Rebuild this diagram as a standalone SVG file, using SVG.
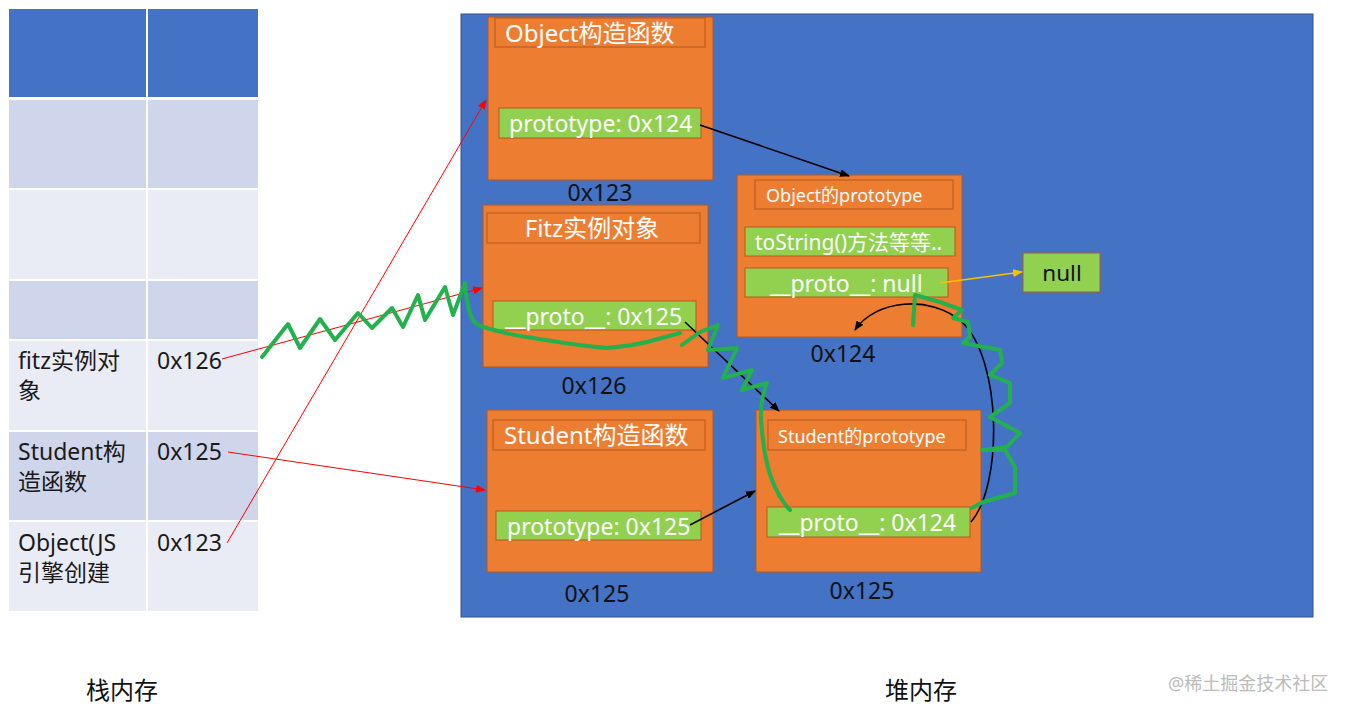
<svg xmlns="http://www.w3.org/2000/svg" width="1349" height="714" viewBox="0 0 1349 714">
<defs>
<style>
text{font-family:"Noto Sans","Noto Sans CJK SC",sans-serif}
.cell-h{fill:#4472C4}
.cell-d{fill:#CFD5EA}
.cell-l{fill:#E9EBF5}
.tt{font-size:23px;fill:#1a1a1a}
.box{fill:#ED7D31;stroke:#B5591E;stroke-width:1}
.title{fill:#ED7D31;stroke:#B5591E;stroke-width:1}
.field{fill:#92D050;stroke:#B5591E;stroke-width:1}
.wh{fill:#fff;font-size:24px}
.wt{fill:#fff;font-size:23px}
.wts{fill:#fff;font-size:18px}
.addr{fill:#111;font-size:23px;text-anchor:middle}
.red{stroke:#FF0000;stroke-width:1;fill:none;marker-end:url(#ar)}
.blk{stroke:#000;stroke-width:1.6;fill:none;marker-end:url(#ab)}
.yel{stroke:#FFC000;stroke-width:1.6;fill:none;marker-end:url(#ay)}
.grn{stroke:#22B14C;stroke-width:4;fill:none;stroke-linecap:round;stroke-linejoin:round}
</style>
<marker id="ar" markerWidth="10" markerHeight="8" refX="9" refY="4" orient="auto" markerUnits="userSpaceOnUse"><path d="M0,0 L10,4 L0,8 z" fill="#FF0000"/></marker>
<marker id="ab" markerWidth="10" markerHeight="8" refX="9" refY="4" orient="auto" markerUnits="userSpaceOnUse"><path d="M0,0 L10,4 L0,8 z" fill="#000"/></marker>
<marker id="ay" markerWidth="10" markerHeight="8" refX="9" refY="4" orient="auto" markerUnits="userSpaceOnUse"><path d="M0,0 L10,4 L0,8 z" fill="#FFC000"/></marker>
</defs>
<rect width="1349" height="714" fill="#fff"/>

<g id="stack">
<rect class="cell-h" x="9" y="9" width="137" height="88"/>
<rect class="cell-h" x="148" y="9" width="110" height="88"/>
<rect class="cell-d" x="9" y="100" width="137" height="88"/>
<rect class="cell-d" x="148" y="100" width="110" height="88"/>
<rect class="cell-l" x="9" y="190" width="137" height="89"/>
<rect class="cell-l" x="148" y="190" width="110" height="89"/>
<rect class="cell-d" x="9" y="281" width="137" height="58"/>
<rect class="cell-d" x="148" y="281" width="110" height="58"/>
<rect class="cell-l" x="9" y="341" width="137" height="89"/>
<rect class="cell-l" x="148" y="341" width="110" height="89"/>
<rect class="cell-d" x="9" y="432" width="137" height="88"/>
<rect class="cell-d" x="148" y="432" width="110" height="88"/>
<rect class="cell-l" x="9" y="522" width="137" height="89"/>
<rect class="cell-l" x="148" y="522" width="110" height="89"/>
<text class="tt" x="18" y="369">fitz实例对</text>
<text class="tt" x="18" y="399">象</text>
<text class="tt" x="157" y="369">0x126</text>
<text class="tt" x="18" y="460">Student构</text>
<text class="tt" x="18" y="490">造函数</text>
<text class="tt" x="157" y="460">0x125</text>
<text class="tt" x="18" y="551">Object(JS</text>
<text class="tt" x="18" y="581">引擎创建</text>
<text class="tt" x="157" y="551">0x123</text>
</g>

<g id="heap">
<rect x="461" y="14" width="852" height="603" fill="#4472C4" stroke="#2F528F" stroke-width="1"/>
</g>

<g id="object-ctor">
<rect class="box" x="488" y="17" width="225" height="163"/>
<rect class="title" x="495" y="18" width="210" height="29"/>
<text class="wh" x="505" y="42">Object构造函数</text>
<rect class="field" x="499" y="108" width="202" height="30"/>
<text class="wt" x="509" y="132">prototype: 0x124</text>
<text class="addr" x="600" y="201">0x123</text>
</g>

<g id="fitz">
<rect class="box" x="483" y="205" width="225" height="162"/>
<rect class="title" x="487" y="213" width="213" height="30"/>
<text class="wh" x="592" y="237" text-anchor="middle">Fitz实例对象</text>
<rect class="field" x="493" y="301" width="203" height="29"/>
<text class="wt" x="505" y="325">__proto__: 0x125</text>
<text class="addr" x="594" y="394">0x126</text>
</g>

<g id="object-proto">
<rect class="box" x="737" y="175" width="225" height="162"/>
<rect class="title" x="755" y="180" width="198" height="29"/>
<text class="wts" x="766" y="202">Object的prototype</text>
<rect class="field" x="745" y="227" width="210" height="29"/>
<text class="wt" x="755" y="250" style="font-size:21px">toString()方法等等..</text>
<rect class="field" x="745" y="268" width="203" height="29"/>
<text class="wt" x="770" y="292">__proto__: null</text>
<text class="addr" x="843" y="362">0x124</text>
</g>

<g id="null">
<rect x="1023" y="253" width="77" height="39" fill="#92D050" stroke="#B5591E" stroke-width="1"/>
<text x="1062" y="281" text-anchor="middle" style="font-size:22.5px;fill:#111">null</text>
</g>

<g id="student-ctor">
<rect class="box" x="487" y="410" width="226" height="162"/>
<rect class="title" x="493" y="420" width="212" height="30"/>
<text class="wh" x="504" y="444">Student构造函数</text>
<rect class="field" x="496" y="511" width="205" height="29"/>
<text class="wt" x="507" y="535">prototype: 0x125</text>
<text class="addr" x="597" y="602">0x125</text>
</g>

<g id="student-proto">
<rect class="box" x="756" y="410" width="225" height="162"/>
<rect class="title" x="768" y="420" width="198" height="30"/>
<text class="wts" x="778" y="443">Student的prototype</text>
<rect class="field" x="767" y="507" width="203" height="30"/>
<text class="wt" x="779" y="531">__proto__: 0x124</text>
<text class="addr" x="862" y="599">0x125</text>
</g>

<g id="labels">
<text x="122" y="699" text-anchor="middle" style="font-size:24px;fill:#111">栈内存</text>
<text x="921" y="699" text-anchor="middle" style="font-size:24px;fill:#111">堆内存</text>
<text x="1168" y="690" style="font-size:18px;fill:#bbb">@稀土掘金技术社区</text>
</g>

<g id="connectors">
<path class="red" d="M222,359 L482,288"/>
<path class="red" d="M228,452 L485,490"/>
<path class="red" d="M227,543 L486,100"/>
<path class="blk" d="M700,125 L849,176"/>
<path class="blk" d="M685,322 L779,411"/>
<path class="blk" d="M690,525 L755,491"/>
<path class="yel" d="M940,283 L1022,272"/>
<path class="blk" d="M971,522 C1003,485 1002,360 962,322 C930,294 875,300 855,330"/>
<path class="grn" d="M262,357 L288,324 L300,348 L320,319 L335,340 L358,313 L372,328 L392,308 L403,327 L418,295 L425,320 L445,287 L453,315 L465,283 Q466,300 470,313 Q472,322 480,326 Q510,335 527,337 Q580,346 607,348 Q630,346 647,342 L680,333"/>
<path class="grn" d="M682,345 L700,332 L718,325 L708,350 L737,348 L723,378 L752,370 L742,390 L767,383 Q760,400 761,420 Q764,460 772,480 Q780,500 790,510"/>
<path class="grn" d="M972,508 L983,502 L1015,493 L1015,467 L1005,450 L982,450 L1007,447 L1020,433 L990,417 L1010,403 L1010,383 L990,375 L1002,363 L1000,350 L963,343 L970,337 L968,322 L953,318 L962,310 L940,302 L915,295 L913,325"/>
</g>
</svg>
